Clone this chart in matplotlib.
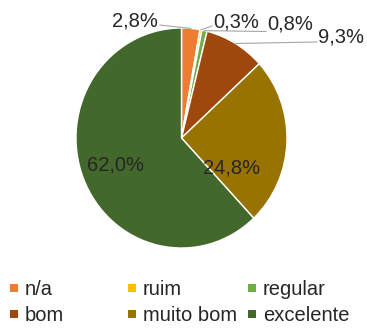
import matplotlib
matplotlib.use("Agg")
import matplotlib.pyplot as plt
from matplotlib.patches import Rectangle
import numpy as np

plt.rcParams['font.family'] = ['Liberation Sans', 'DejaVu Sans']

categories = ["n/a", "ruim", "regular", "bom", "muito bom", "excelente"]
values = [2.8, 0.3, 0.8, 9.3, 24.8, 62.0]
labels = ["2,8%", "0,3%", "0,8%", "9,3%", "24,8%", "62,0%"]
colors = ["#ED7D31", "#FFC000", "#70AD47", "#9E480E", "#997300", "#43682B"]

W, H = 367, 329
fig = plt.figure(figsize=(W / 100, H / 100), dpi=100)

# pie box in pixels (from top-left)
cx, cy, rx, ry = 181.5, 138.0, 105.5, 110.0
ax = fig.add_axes([(cx - rx) / W, (H - cy - ry) / H, 2 * rx / W, 2 * ry / H])
wedges, _ = ax.pie(values, colors=colors, startangle=90, counterclock=False,
                   radius=1.0, wedgeprops=dict(edgecolor="white", linewidth=1.0))
ax.set_aspect("auto")
ax.set_xlim(-1, 1)
ax.set_ylim(-1, 1)
ax.axis("off")

def px2d(px, py):
    return (px - cx) / rx, (cy - py) / ry

fs = 14.5
tc = "#262626"
lc = "#A6A6A6"

# outside labels: (text px x, baseline px y, ha, line start px)
outside = {
    0: (158, 26.5, "right", (160, 25)),
    1: (213, 27.0, "left", (212, 26)),
    2: (267, 29.5, "left", (266, 31.5)),
    3: (318, 42.5, "left", (317, 42)),
}
for i, (tx, ty, ha, ls) in outside.items():
    w = wedges[i]
    mid = np.deg2rad((w.theta1 + w.theta2) / 2)
    ax_, ay_ = np.cos(mid), np.sin(mid)
    x0, y0 = px2d(*ls)
    ax.plot([x0, ax_], [y0, ay_], color=lc, lw=0.8, clip_on=False)
    x, y = px2d(tx, ty)
    ax.text(x, y, labels[i], ha=ha, va="baseline", fontsize=fs, color=tc, clip_on=False)

inside = {4: (231.5, 168), 5: (115.5, 165)}
for i, (tx, ty) in inside.items():
    x, y = px2d(tx, ty)
    ax.text(x, y, labels[i], ha="center", va="center", fontsize=fs, color=tc)

# legend
col_x = [10, 128, 248]
row_y = [(284, 295), (310, 321)]
for k, (cat, col) in enumerate(zip(categories, colors)):
    r, c = divmod(k, 3)
    mx = col_x[c]
    mtop, base = row_y[r]
    fig.add_artist(Rectangle((mx / W, (H - mtop - 8) / H), 8 / W, 8 / H,
                             transform=fig.transFigure, facecolor=col, edgecolor="none"))
    fig.text((mx + 15) / W, (H - base) / H, cat, ha="left", va="baseline",
             fontsize=fs, color=tc)

fig.savefig("out.png", dpi=100)
